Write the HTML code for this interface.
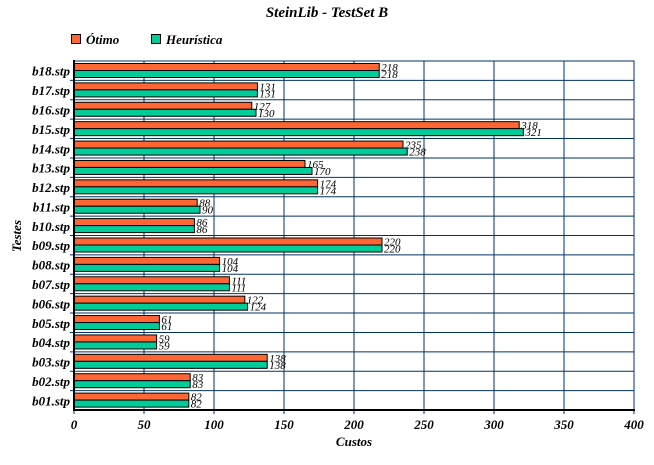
<!DOCTYPE html>
<html><head><meta charset="utf-8"><style>
body{margin:0;background:#fff;}
svg{display:block;font-family:"Liberation Serif",serif;}
</style></head><body>
<svg id="chart" width="654" height="465">
<text x="327" y="17" text-anchor="middle" font-size="15" font-weight="bold" font-style="italic">SteinLib - TestSet B</text>
<g>
<rect x="71.5" y="34.5" width="9" height="9" fill="#ff6633" stroke="#000"/>
<text x="86" y="44" font-size="13" font-weight="bold" font-style="italic">Ótimo</text>
<rect x="151.5" y="34.5" width="9" height="9" fill="#00cc99" stroke="#000"/>
<text x="166" y="44" font-size="13" font-weight="bold" font-style="italic">Heurística</text>
</g>
<g id="grid"></g><g id="bars"></g><g id="axes"></g>
<text x="354" y="446" text-anchor="middle" font-size="13" font-weight="bold" font-style="italic">Custos</text>
<text transform="translate(21,236) rotate(-90)" text-anchor="middle" font-size="13" font-weight="bold" font-style="italic">Testes</text>
</svg>
<script>
const categories=["b18.stp","b17.stp","b16.stp","b15.stp","b14.stp","b13.stp","b12.stp","b11.stp","b10.stp","b09.stp","b08.stp","b07.stp","b06.stp","b05.stp","b04.stp","b03.stp","b02.stp","b01.stp"];
const otimo=[218,131,127,318,235,165,174,88,86,220,104,111,122,61,59,138,83,82];
const heuristica=[218,131,130,321,238,170,174,90,86,220,104,111,124,61,59,138,83,82];
const xTicks=[0,50,100,150,200,250,300,350,400];
const NS="http://www.w3.org/2000/svg";
const L=74,R=634,T=61,B=410,XMAX=400;
const x=v=>L+v/XMAX*(R-L);
const band=(B-T)/categories.length;
const y=i=>T+i*band;
function mk(tag,attrs,parent,text){const e=document.createElementNS(NS,tag);for(const k in attrs)e.setAttribute(k,attrs[k]);if(text!==undefined)e.textContent=text;parent.appendChild(e);return e;}
const grid=document.getElementById('grid'),bars=document.getElementById('bars'),axes=document.getElementById('axes');
mk('rect',{x:L,y:T,width:R-L,height:B-T,fill:'none',stroke:'#003366','stroke-width':1},grid);
xTicks.forEach((t,i)=>{
 const g=mk('line',{x1:x(t),x2:x(t),y1:T,y2:B+4,stroke:'#003366','stroke-width':1},grid);
 
 
 const lb=mk('text',{x:x(t),y:B+19,'text-anchor':'middle','font-size':13,'font-weight':'bold','font-style':'italic'},axes,String(t));
 
 
});
categories.forEach((c,i)=>{
 if(i>0){const gl=mk('line',{x1:L-4,x2:R,y1:y(i),y2:y(i),stroke:'#003366','stroke-width':1},grid);
 
 }
 const top=y(i)+2;
 const b1=mk('rect',{x:L,y:top+0.5,width:x(otimo[i])-L,height:7,fill:'#ff6633',stroke:'#000','stroke-width':1},bars);
 
 
 const b2=mk('rect',{x:L,y:top+7.5,width:x(heuristica[i])-L,height:7,fill:'#00cc99',stroke:'#000','stroke-width':1},bars);
 
 
 const v1=mk('text',{x:x(otimo[i])+2,y:top+8,'font-size':11,'font-style':'italic'},bars,String(otimo[i]));
 
 
 const v2=mk('text',{x:x(heuristica[i])+2,y:top+15,'font-size':11,'font-style':'italic'},bars,String(heuristica[i]));
 
 
 const cl=mk('text',{x:L-4,y:y(i)+band/2+5,'text-anchor':'end','font-size':13,'font-weight':'bold','font-style':'italic'},axes,c);
 
 
});
mk('line',{x1:L,x2:L,y1:T-1,y2:B+1,stroke:'#000','stroke-width':2},axes);
mk('line',{x1:L-1,x2:R+1,y1:B,y2:B,stroke:'#000','stroke-width':2},axes);
</script>
</body></html>
